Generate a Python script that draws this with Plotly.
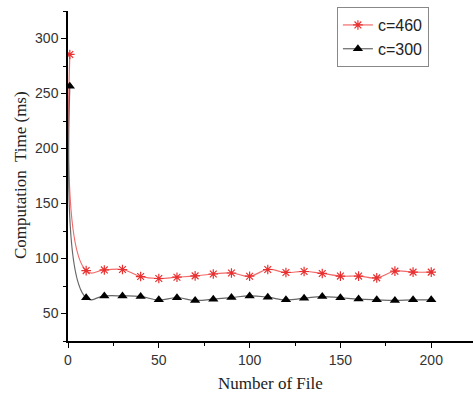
import plotly.graph_objects as go

x_files = [1, 10, 20, 30, 40, 50, 60, 70, 80, 90, 100, 110, 120, 130, 140, 150, 160, 170, 180, 190, 200]
c460 = [285.5, 89, 89.6, 90, 83.6, 81.8, 83, 84.2, 85.9, 86.8, 83.9, 90, 87.3, 88.2, 86.4, 84, 84, 82.4, 88.5, 87.6, 87.6]
c300 = [256.6, 64.3, 66, 66, 65.4, 62.4, 64.3, 61.9, 63, 64.5, 66, 64.8, 62.4, 63.9, 65.4, 64.3, 63.1, 62.4, 61.9, 62.4, 62.4]

fig = go.Figure()
fig.add_trace(go.Scatter(
    x=x_files, y=c460, name="c=460", mode="lines+markers",
    line=dict(color="#f26a6a", width=1.2, shape="spline", smoothing=1.3),
    marker=dict(symbol="asterisk-open", size=8, color="#e83030", line=dict(color="#e83030", width=1.2)),
))
fig.add_trace(go.Scatter(
    x=x_files, y=c300, name="c=300", mode="lines+markers",
    line=dict(color="#666666", width=1.2, shape="spline", smoothing=1.3),
    marker=dict(symbol="triangle-up", size=9, color="black"),
))

axis_common = dict(
    showline=True, linecolor="black", linewidth=1.5,
    ticks="outside", ticklen=5, tickwidth=1.2, tickcolor="black",
    showgrid=False, zeroline=False, automargin=False,
    tickfont=dict(family="Liberation Sans, Arial", size=14, color="#333333"),
)
fig.update_xaxes(
    range=[0, 223], dtick=50, tick0=0,
    minor=dict(ticks="outside", dtick=25, ticklen=3, tickcolor="black"),
    **axis_common,
)
fig.update_yaxes(
    range=[25, 325], dtick=50, tick0=0,
    minor=dict(ticks="outside", dtick=25, ticklen=3, tickcolor="black"),
    **axis_common,
)
title_font = dict(family="Liberation Serif, Times New Roman", size=17, color="#222222")
fig.add_annotation(text="Number of File", xref="paper", yref="paper", x=0.5, y=-0.128,
                   xanchor="center", yanchor="middle", showarrow=False, font=title_font)
fig.add_annotation(text="Computation  Time (ms)", xref="paper", yref="paper", x=-0.1185, y=0.503,
                   xanchor="center", yanchor="middle", showarrow=False, textangle=-90, font=title_font)
fig.update_layout(
    width=473, height=394,
    margin=dict(l=68, r=0, t=11, b=53),
    plot_bgcolor="white", paper_bgcolor="white",
    legend=dict(x=0.664, y=1.012, xanchor="left", yanchor="top",
                bordercolor="#888888", borderwidth=1, bgcolor="white",
                font=dict(family="Liberation Sans, Arial", size=16, color="#222222"),
                tracegroupgap=0, itemwidth=30),
    showlegend=True,
)
fig.write_html("out.html", config={"displayModeBar": False},
               post_script="document.body.style.margin='0';")
